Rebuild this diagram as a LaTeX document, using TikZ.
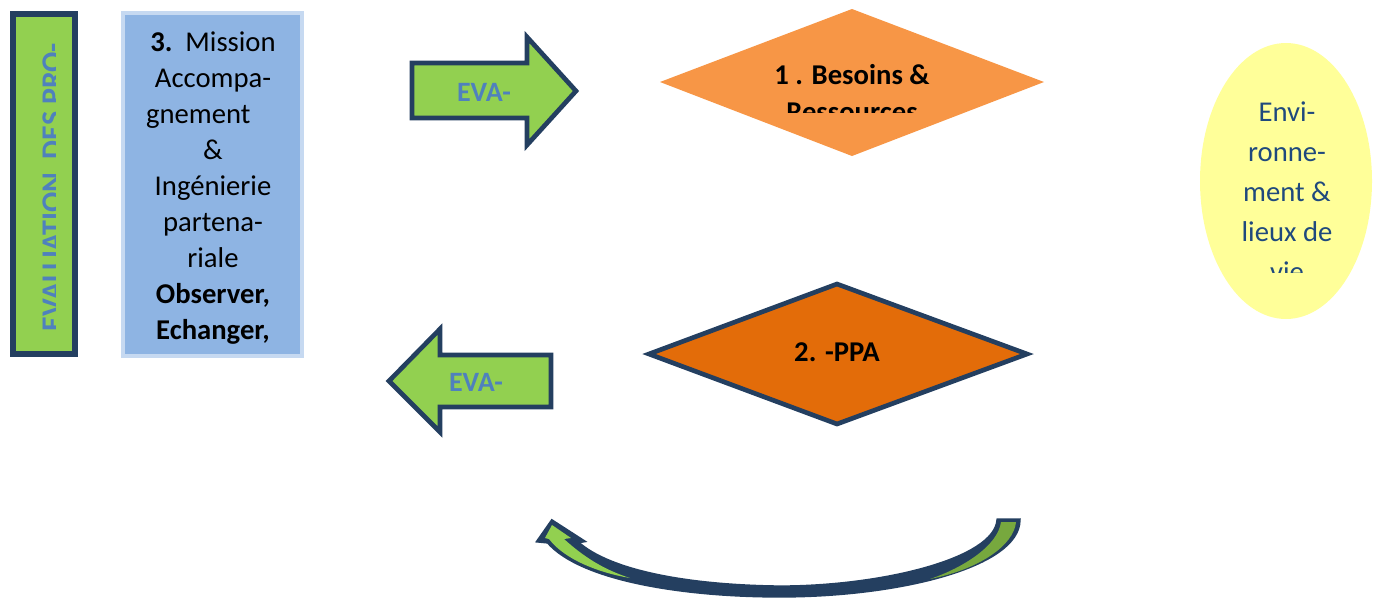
\documentclass[tikz,border=0pt]{standalone}
\usepackage{fontspec}
\setmainfont{Carlito}
\usepackage{xcolor}

\definecolor{navy}{HTML}{243F60}
\definecolor{leaf}{HTML}{92D050}
\definecolor{leafdark}{HTML}{77A83E}
\definecolor{evablue}{HTML}{4F81BD}
\definecolor{skyfill}{HTML}{8EB4E3}
\definecolor{skyedge}{HTML}{C6D9F1}
\definecolor{orangelight}{HTML}{F79646}
\definecolor{orangedark}{HTML}{E36C09}
\definecolor{paleyellow}{HTML}{FFFF99}
\definecolor{inkblue}{HTML}{1F497D}

\tikzset{
    txt/.style={font=\fontsize{21.5}{27}\selectfont, inner sep=0pt, align=center},
    evatxt/.style={txt, font=\fontsize{21}{27}\selectfont\bfseries, text=evablue},
    greenshape/.style={fill=leaf, draw=navy, line width=3.5pt, line join=miter},
}

\begin{document}
\begin{tikzpicture}[x=0.75pt, y=-0.75pt]
        \useasboundingbox (0, 0) rectangle (1378, 601);

        % left column
        \draw[fill=leaf, draw=navy, line width=4.5pt] (13, 14) rectangle (75, 354);
        \begin{scope}
            \clip (17, 18) rectangle (55.5, 350);
            \node[evatxt, font=\fontsize{22.5}{27}\selectfont\bfseries, rotate=90, anchor=base] (evalpro) at (62, 187) {EVALUATION~~DES PRO-};
        \end{scope}

        \draw[fill=skyfill, draw=skyedge, line width=3.5pt] (123, 13) rectangle (302, 356);
        \node[txt, text=black] (mission) at (213, 188) {%
            \textbf{3.}~~Mission\\
            Accompa-\\
            \mbox{gnement\hspace{22pt}}\\
            \&\\
            Ingénierie\\
            partena-\\
            riale\\
            \textbf{Observer,}\\
            \textbf{Echanger,}};

        % arrows EVA
        \draw[greenshape] (412, 63) -- (527, 63) -- (527, 37) -- (576, 91)
            -- (527, 145) -- (527, 118) -- (412, 118) -- cycle;
        \node[evatxt] (evaright) at (484, 92) {EVA-};

        \draw[greenshape] (551, 355) -- (440, 355) -- (440, 329) -- (389, 381)
            -- (440, 432) -- (440, 407) -- (551, 407) -- cycle;
        \node[evatxt] (evaleft) at (476, 382) {EVA-};

        % diamonds
        \fill[orangelight] (660, 82) -- (852, 9) -- (1044, 82) -- (852, 156) -- cycle;
        \begin{scope}
            \clip (700, 20) rectangle (1000, 112);
            \node[txt, font=\fontsize{21.5}{28}\selectfont\bfseries] (besoins) at (852, 93) {1 . Besoins \&\\Ressources};
        \end{scope}

        \draw[fill=orangedark, draw=navy, line width=3.5pt, line join=miter]
            (649, 354) -- (837, 284) -- (1027, 354) -- (837, 424) -- cycle;
        \node[txt, font=\fontsize{21.5}{27}\selectfont\bfseries] (ppa) at (837, 352) {2. -PPA};

        % environnement
        \fill[paleyellow] (1286, 181) ellipse [x radius=86, y radius=138];
        \begin{scope}
            \clip (1200, 60) rectangle (1372, 272);
            \node[txt, font=\fontsize{21.5}{30}\selectfont, text=inkblue] (envi) at (1287, 192)
                {Envi-\\ronne-\\ment \&\\lieux de\\vie};
        \end{scope}

        % curved return arrow
        \draw[fill=navy, draw=navy, line width=2.5pt, line join=miter]
            (998, 520) -- (1019, 520)
            .. controls (1019, 566) and (900, 596) .. (780, 596)
            .. controls (680, 596) and (580, 579) .. (548, 542)
            -- (538, 541) -- (552, 521) -- (583, 541) -- (577, 542)
            .. controls (610, 572) and (690, 586) .. (780, 587)
            .. controls (880, 587) and (995, 560) .. (998, 520) -- cycle;
        \fill[leaf] (545, 538) -- (552, 525) -- (571, 538) -- (564, 539)
            .. controls (585, 558) and (605, 570) .. (630, 578)
            .. controls (600, 573) and (565, 560) .. (549, 539) -- cycle;
        \fill[leafdark] (1001, 522) -- (1016, 522)
            .. controls (1014, 545) and (980, 569) .. (930, 579)
            .. controls (965, 567) and (998, 545) .. (1001, 522) -- cycle;
    \end{tikzpicture}
\end{document}
